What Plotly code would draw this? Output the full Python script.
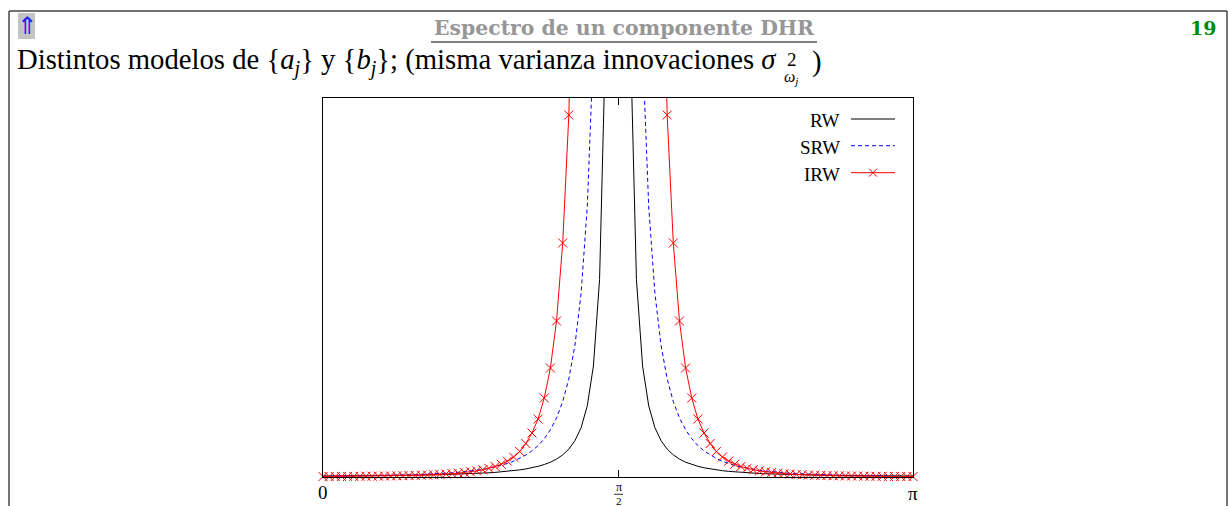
import math
import plotly.graph_objects as go

# ---------------- data (y in arbitrary units) ----------------
n_points = 97                                   # frequency grid 0..pi
omega = [math.pi * k / 96 for k in range(n_points)]

rw = [0.95, 0.98, 1.02, 1.05, 1.09, 1.13, 1.18, 1.23, 1.28, 1.34, 1.40, 1.47,
      1.54, 1.62, 1.70, 1.80, 1.90, 2.01, 2.14, 2.28, 2.43, 2.60, 2.79, 3.00,
      3.24, 3.52, 3.83, 4.19, 4.60, 5.08, 5.64, 6.30, 7.09, 8.05, 9.21, 10.7,
      12.5, 14.8, 17.9, 22.1, 27.9, 36.4, 49.4, 71.1, 111.0, 197.3, 443.7, 1776,
      None,
      1776, 443.7, 197.3, 111.0, 71.1, 49.4, 36.4, 27.9, 22.1, 17.9, 14.8, 12.5,
      10.7, 9.21, 8.05, 7.09, 6.30, 5.64, 5.08, 4.60, 4.19, 3.83, 3.52, 3.24,
      3.00, 2.79, 2.60, 2.43, 2.28, 2.14, 2.01, 1.90, 1.80, 1.70, 1.62, 1.54,
      1.47, 1.40, 1.34, 1.28, 1.23, 1.18, 1.13, 1.09, 1.05, 1.02, 0.98, 0.95]

srw = [0.76, 0.81, 0.86, 0.91, 0.97, 1.04, 1.12, 1.20, 1.29, 1.40, 1.51, 1.64,
       1.78, 1.93, 2.10, 2.31, 2.53, 2.78, 3.08, 3.42, 3.79, 4.22, 4.72, 5.30,
       5.97, 6.77, 7.69, 8.78, 10.1, 11.6, 13.5, 15.7, 18.5, 21.9, 26.1, 31.4,
       38.3, 47.2, 59.1, 75.3, 98.1, 132, 184, 270, 429, 774, 1760, 7089,
       None,
       7089, 1760, 774, 429, 270, 184, 132, 98.1, 75.3, 59.1, 47.2, 38.3,
       31.4, 26.1, 21.9, 18.5, 15.7, 13.5, 11.6, 10.1, 8.78, 7.69, 6.77, 5.97,
       5.30, 4.72, 4.22, 3.79, 3.42, 3.08, 2.78, 2.53, 2.31, 2.10, 1.93, 1.78,
       1.64, 1.51, 1.40, 1.29, 1.20, 1.12, 1.04, 0.97, 0.91, 0.86, 0.81, 0.76]

irw = [0.45, 0.48, 0.51, 0.55, 0.59, 0.64, 0.69, 0.75, 0.81, 0.89, 0.97, 1.06,
       1.18, 1.30, 1.44, 1.60, 1.79, 2.00, 2.26, 2.56, 2.91, 3.34, 3.84, 4.46,
       5.21, 6.12, 7.25, 8.67, 10.5, 12.8, 15.8, 20.0, 25.5, 33.5, 44, 58,
       79, 109, 156, 234, 362, 630, 1160, 2400, 5840, 18400, 93000, 1500000,
       None,
       1500000, 93000, 18400, 5840, 2400, 1160, 630, 362, 234, 156, 109, 79,
       58, 44, 33.5, 25.5, 20.0, 15.8, 12.8, 10.5, 8.67, 7.25, 6.12, 5.21,
       4.46, 3.84, 3.34, 2.91, 2.56, 2.26, 2.00, 1.79, 1.60, 1.44, 1.30, 1.18,
       1.06, 0.97, 0.89, 0.81, 0.75, 0.69, 0.64, 0.59, 0.55, 0.51, 0.48, 0.45]

series_names = ["RW", "SRW", "IRW"]
tick_vals = [0, math.pi / 2, math.pi]
tick_text = ["0", "π/2", "π"]
y_max = 379

header_title = "Espectro de un componente DHR"
page_number = "19"
subtitle = ("Distintos modelos de {<i>a</i><sub><i>j</i></sub>} y "
            "{<i>b</i><sub><i>j</i></sub>}; (misma varianza innovaciones <i>σ</i>")

# ---------------- geometry helpers (page pixels -> paper) ----------------
W, H = 1228, 506
L, R, T, B = 323, 913, 98, 477


def px(x):
    return (x - L) / (R - L)


def py(y):
    return (B - y) / (B - T)


SERIF = "Liberation Serif"

fig = go.Figure()
fig.add_trace(go.Scatter(x=omega, y=rw, mode="lines", name=series_names[0],
                         line=dict(color="black", width=1), showlegend=False))
fig.add_trace(go.Scatter(x=omega, y=srw, mode="lines", name=series_names[1],
                         line=dict(color="blue", width=1, dash="4px,3px"),
                         showlegend=False))
fig.add_trace(go.Scatter(x=omega, y=irw, mode="lines", name=series_names[2],
                         line=dict(color="red", width=1), showlegend=False))
irw_marks = [v if (v is not None and v <= y_max) else None for v in irw]
fig.add_trace(go.Scatter(x=omega, y=irw_marks, mode="markers", showlegend=False,
                         cliponaxis=False,
                         marker=dict(symbol="x-thin", size=9,
                                     line=dict(color="red", width=1))))

shapes = []
annotations = []


def line(x0, y0, x1, y1, color="black", width=1, dash=None):
    d = dict(type="line", xref="paper", yref="paper",
             x0=px(x0), y0=py(y0), x1=px(x1), y1=py(y1),
             line=dict(color=color, width=width))
    if dash:
        d["line"]["dash"] = dash
    shapes.append(d)


def text(s, x, y, size, color="black", xanchor="center", yanchor="middle",
         family=SERIF):
    annotations.append(dict(text=s, xref="paper", yref="paper", x=px(x), y=py(y),
                            xanchor=xanchor, yanchor=yanchor, showarrow=False,
                            font=dict(family=family, size=size, color=color)))


# slide frame
line(9, 11, 1227, 11, color="#444444", width=1.5)
line(9, 11, 9, 506, color="#444444", width=1.5)
line(1227, 11, 1227, 506, color="#444444", width=1.5)

# header
shapes.append(dict(type="rect", xref="paper", yref="paper",
                   x0=px(18), x1=px(35), y0=py(39), y1=py(13),
                   fillcolor="#c4c4c4", line=dict(width=0)))
text("⇑", 26.5, 26, 24, color="#1a1aff", family="DejaVu Sans")
text("<b>" + header_title + "</b>", 624, 28, 20.4, color="#969696",
     family="DejaVu Serif")
line(431, 42, 817, 42, width=1)
text("<b>" + page_number + "</b>", 1218, 28, 19, color="#008c00",
     xanchor="right", family="DejaVu Serif")

# subtitle
text(subtitle, 779, 61, 28.7, xanchor="right")
text("2", 785, 59, 19, xanchor="left")
text("<i>ω</i><sub><i>j</i></sub>", 782, 77, 16, xanchor="left")
text(")", 810, 61, 28.7, xanchor="left")

# tick labels
text(tick_text[0], L, 492, 19)
text("π", 618.5, 487, 12)
line(614, 494.3, 623, 494.3, width=0.8)
text("2", 618.5, 501, 11)
text(tick_text[2], R, 493, 19)

# legend (text left of key, as in the reference)
legend_y = [120, 147, 174]
text(series_names[0], 842, legend_y[0], 19, xanchor="right")
text(series_names[1], 842, legend_y[1], 19, xanchor="right")
text(series_names[2], 842, legend_y[2], 19, xanchor="right")
line(851, 119, 895, 119, color="black", width=1)
line(851, 145.7, 895, 145.7, color="blue", width=1, dash="4px,3px")
line(851, 172.7, 895, 172.7, color="red", width=1)
line(869, 168.7, 877, 176.7, color="red", width=1)
line(869, 176.7, 877, 168.7, color="red", width=1)

fig.update_layout(
    width=W, height=H,
    margin=dict(l=L, r=W - R, t=T, b=H - B, pad=0),
    paper_bgcolor="white", plot_bgcolor="white",
    shapes=shapes, annotations=annotations,
    showlegend=False,
)
fig.update_xaxes(range=[0, math.pi], tickvals=tick_vals, showticklabels=False,
                 ticks="inside", ticklen=7, tickcolor="black", tickwidth=1,
                 showline=True, linecolor="black", linewidth=1, mirror="ticks",
                 showgrid=False, zeroline=False, fixedrange=True)
fig.update_yaxes(range=[0, y_max], showticklabels=False, ticks="",
                 showline=True, linecolor="black", linewidth=1, mirror=True,
                 showgrid=False, zeroline=False, fixedrange=True)

fig.write_html("out.html", config={"displayModeBar": False},
               post_script="document.body.style.margin='0';"
                           "document.body.style.overflow='hidden';")
